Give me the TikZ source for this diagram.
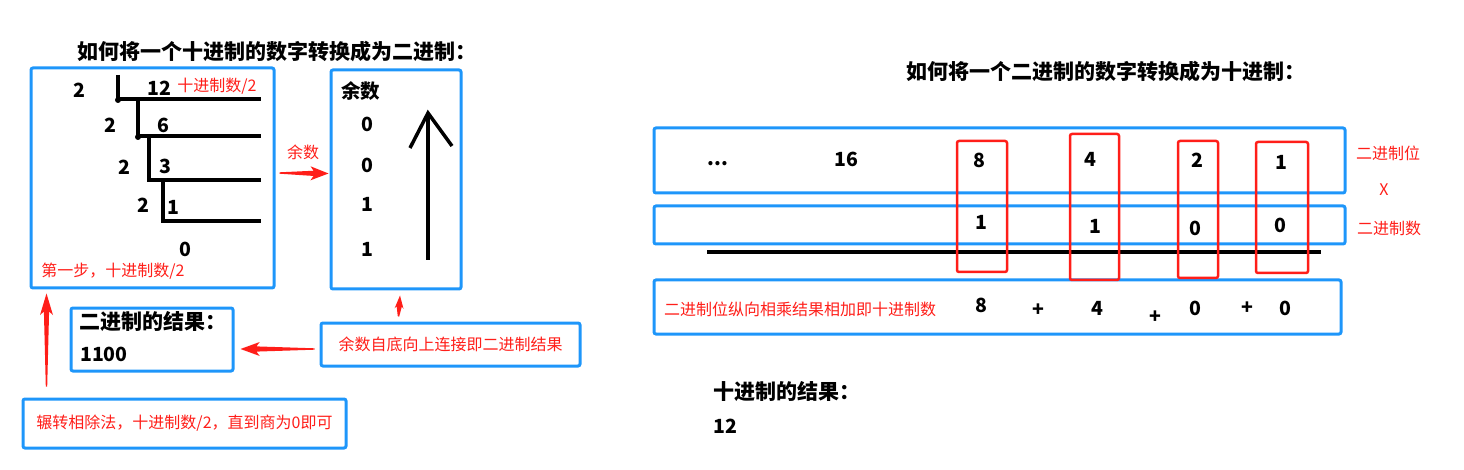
\documentclass[tikz,border=0pt]{standalone}
\usepackage{fontspec}
\setmainfont{Noto Sans CJK SC}
\usetikzlibrary{calc}
\definecolor{boxblue}{RGB}{30,150,250}
\definecolor{markred}{RGB}{255,30,25}

% tapered red arrow: from, to, head length, half width
\newcommand{\wedgearrow}[4]{%
  \path (#1) coordinate (wa-s) (#2) coordinate (wa-e);
  \path ($(wa-e)!#3!(wa-s)$) coordinate (wa-h);
  \path ($(wa-e)!1.2*#3!(wa-s)$) coordinate (wa-b);
  \fill[markred] ($(wa-s)!0.7pt!90:(wa-e)$) -- ($(wa-h)!2.6pt!90:(wa-e)$)
    -- ($(wa-b)!#4!90:(wa-e)$) -- (wa-e) -- ($(wa-b)!#4!-90:(wa-e)$)
    -- ($(wa-h)!2.6pt!-90:(wa-e)$) -- ($(wa-s)!0.7pt!-90:(wa-e)$) -- cycle;
}

\begin{document}
\begin{tikzpicture}[x=1pt,y=-1pt,
    bluebox/.style={draw=boxblue, line width=3pt, rounded corners=2pt, inner sep=0pt},
    redbox/.style={draw=markred, line width=2.5pt, rounded corners=2pt, inner sep=0pt},
    num/.style={font=\fontsize{19.5}{22}\selectfont\bfseries, inner sep=0pt},
    heading/.style={font=\fontsize{21}{24}\selectfont\bfseries, inner sep=0pt},
    note/.style={font=\fontsize{16}{19}\selectfont, text=markred, inner sep=0pt},
    divline/.style={line width=3.5pt}]
    \useasboundingbox (0,0) rectangle (1464,470);

    % ---- decimal to binary (left) ----
    \node[heading] (title1) at (277,52) {如何将一个十进制的数字转换成为二进制：};

    \node[bluebox, minimum width=243pt, minimum height=220pt] (boxdiv) at (152.5,178) {};
    \node[bluebox, minimum width=130pt, minimum height=219pt] (boxrem) at (396,179.5) {};
    \node[bluebox, minimum width=162pt, minimum height=63pt] (boxres) at (152,339.5) {};
    \node[bluebox, minimum width=259pt, minimum height=43pt] (boxhint) at (450.5,344.5) {};
    \node[bluebox, minimum width=323pt, minimum height=49pt] (boxmethod) at (184.5,423.5) {};

    % short division
    \foreach \vx/\ty/\by in {118/75/99, 138/99/136, 149/136/180, 163/180/221}
        \draw[divline] (\vx,\ty) -- (\vx,\by) -- (261,\by);
    \fill (118,100) circle (3pt);
    \fill (138,137) circle (3pt);

    \foreach \v/\x/\y [count=\i] in {2/79/90, 12/159/88, 2/110/125, 6/163/125,
                                     2/124/167, 3/165/166, 2/143/205, 1/173/207, 0/185/249}
        \node[num] (q\i) at (\x,\y) {\v};
    \node[note] (step) at (217,86) {十进制数/2};
    \node[note] (first) at (113,271) {第一步，十进制数/2};

    % remainders
    \node[num, anchor=west] (remhead) at (341,91) {余数};
    \foreach \v/\y [count=\i] in {0/124, 0/165, 1/204, 1/249}
        \node[num] (r\i) at (367,\y) {\v};
    \draw[line width=3.5pt] (428,260) -- (428,113);
    \draw[line width=3.5pt] (410,148) -- (428,113) -- (452,146);

    \node[heading, anchor=west] (reshead) at (79,322) {二进制的结果：};
    \node[num, anchor=west] (resval) at (80,354) {1100};
    \node[note] (hinttext) at (boxhint) {余数自底向上连接即二进制结果};
    \node[note] (methodtext) at (boxmethod) {辗转相除法，十进制数/2，直到商为0即可};

    % red arrows
    \node[note] (remlabel) at (303,152) {余数};
    \wedgearrow{$(boxdiv.east)+(4,-5)$}{$(boxrem.west)+(-1,-6)$}{15pt}{7pt}
    \wedgearrow{$(boxhint.north west)+(79,-5)$}{$(boxrem.south)+(4,5)$}{11pt}{4.5pt}
    \wedgearrow{$(boxhint.west)+(-5,4.5)$}{$(boxres.east)+(6,9.5)$}{16pt}{7pt}
    \wedgearrow{$(boxmethod.north west)+(25,-11)$}{$(boxdiv.south west)+(17,4)$}{18pt}{6.5pt}

    % ---- binary to decimal (right) ----
    \node[heading] (title2) at (1106,72) {如何将一个二进制的数字转换成为十进制：};

    \node[bluebox, minimum width=691pt, minimum height=65pt] (rowpow) at (999.5,160.5) {};
    \node[bluebox, minimum width=691pt, minimum height=38pt] (rowbit) at (999.5,225) {};
    \node[bluebox, minimum width=687pt, minimum height=54pt] (rowsum) at (997.5,307) {};
    \draw[line width=4pt] (707,252) -- (1321,252);

    \node[num] (dots) at (718,164) {...};
    \foreach \v/\x/\y [count=\i] in {16/846/159, 8/979/160, 4/1090/159, 2/1197/160, 1/1281/162}
        \node[num] (p\i) at (\x,\y) {\v};
    \foreach \v/\x/\y [count=\i] in {1/981/222, 1/1095/226, 0/1195/228, 0/1280/225}
        \node[num] (b\i) at (\x,\y) {\v};

    \node[redbox, minimum width=50pt, minimum height=131pt] (rb8) at (982,206.5) {};
    \node[redbox, minimum width=49pt, minimum height=146pt] (rb4) at (1094.5,207) {};
    \node[redbox, minimum width=40pt, minimum height=137pt] (rb2) at (1198,209.5) {};
    \node[redbox, minimum width=52pt, minimum height=131pt] (rb1) at (1282,207.5) {};

    \node[note, anchor=west] (sumtext) at (664,309) {二进制位纵向相乘结果相加即十进制数};
    \foreach \v/\x/\y [count=\i] in {8/981/305, +/1038/310, 4/1097/308, +/1155/317,
                                     0/1195/308, +/1247/308, 0/1285/308}
        \node[num] (s\i) at (\x,\y) {\v};

    \node[note] (lblpow) at (1388,153) {二进制位};
    \node[note] (lbltimes) at (1384,190) {X};
    \node[note] (lblbit) at (1389,228) {二进制数};

    \node[heading, anchor=west] (dechead) at (713,392) {十进制的结果：};
    \node[num, anchor=west] (decval) at (713,426) {12};
\end{tikzpicture}
\end{document}
